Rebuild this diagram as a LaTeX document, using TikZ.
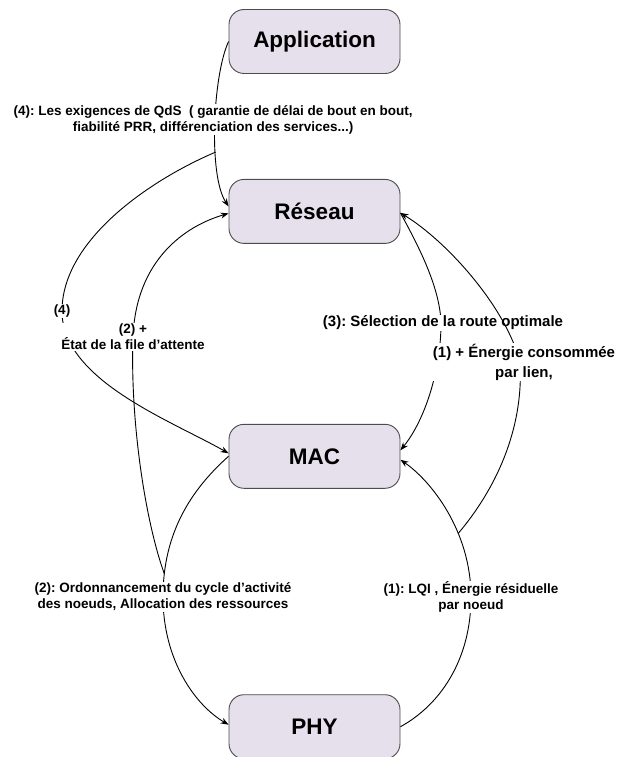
\documentclass[tikz,border=0pt]{standalone}
\usepackage{fontspec}
\setmainfont{Liberation Sans}
\usetikzlibrary{arrows.meta,positioning}
\definecolor{layerfill}{RGB}{229,224,236}
\frenchspacing

\begin{document}
\begin{tikzpicture}[x=1pt,y=-1pt,
  layer/.style={draw=black!70,line width=0.9pt,fill=layerfill,rounded corners=15pt,minimum width=171pt,minimum height=64pt,inner sep=0pt,font=\fontsize{22.5}{27}\selectfont\bfseries},
  lbl/.style={fill=white,inner sep=1pt,align=center,font=\fontsize{13.5}{16}\selectfont\bfseries},
  biglbl/.style={lbl,font=\fontsize{15}{20}\selectfont\bfseries},
  link/.style={-{Stealth[length=8pt,width=6pt]},line width=0.9pt}]
  \useasboundingbox (0,0) rectangle (617,757);
  \node[layer] (app) at (314.5,41.5) {Application};
  \node[layer,below=105pt of app] (res) {Réseau};
  \node[layer,below=180pt of res] (mac) {MAC};
  \node[layer,below=205.5pt of mac] (phy) {PHY};
  \draw[link] (app.west) .. controls (213,75) and (208,175) .. ([yshift=5pt]res.west)
    coordinate[pos=0.64] (qa)
    node[lbl,pos=0.475,xshift=-2pt] {(4): Les exigences de QdS\ \ ( garantie de délai de bout en bout,\\fiabilité PRR, différenciation des services...)};
  \draw[link] (qa) .. controls (150,180) and (62,240) .. (62,311) node[lbl] {(4)}
    .. controls (62,380) and (170,420) .. ([yshift=3pt]mac.west);
  \draw[link] (mac.west) .. controls (185,495) and (163,540) .. (163,597)
    coordinate[pos=0.86] (qc)
    node[lbl] {(2): Ordonnancement du cycle d’activité\\des noeuds, Allocation des ressources}
    .. controls (163,660) and (195,705) .. ([yshift=2pt]phy.west);
  \draw[link] (qc) .. controls (145,520) and (130,420) .. (133,337) node[lbl] {(2) +\\État de la file d’attente}
    .. controls (136,260) and (185,226) .. ([yshift=-2pt]res.west);
  \draw[link] ([yshift=-1.5pt]res.east) .. controls (415,240) and (440,285) .. (441,323)
    node[biglbl,xshift=2pt] {(3): Sélection de la route optimale}
    .. controls (441,370) and (425,420) .. ([yshift=6pt]mac.east);
  \draw[link] (phy.east) .. controls (440,705) and (471,660) .. (471,597)
    node[lbl] {(1): LQI , Énergie résiduelle\\par noeud}
    .. controls (471,530) and (430,480) .. ([yshift=-3.5pt]mac.east)
    coordinate[pos=0.35] (qg);
  \draw[link] (qg) .. controls (495,490) and (524,430) .. (520,362)
    node[biglbl,xshift=4pt] {(1) + Énergie consommée\\par lien,}
    .. controls (505,305) and (445,240) .. ([yshift=-1.5pt]res.east);
\end{tikzpicture}
\end{document}
